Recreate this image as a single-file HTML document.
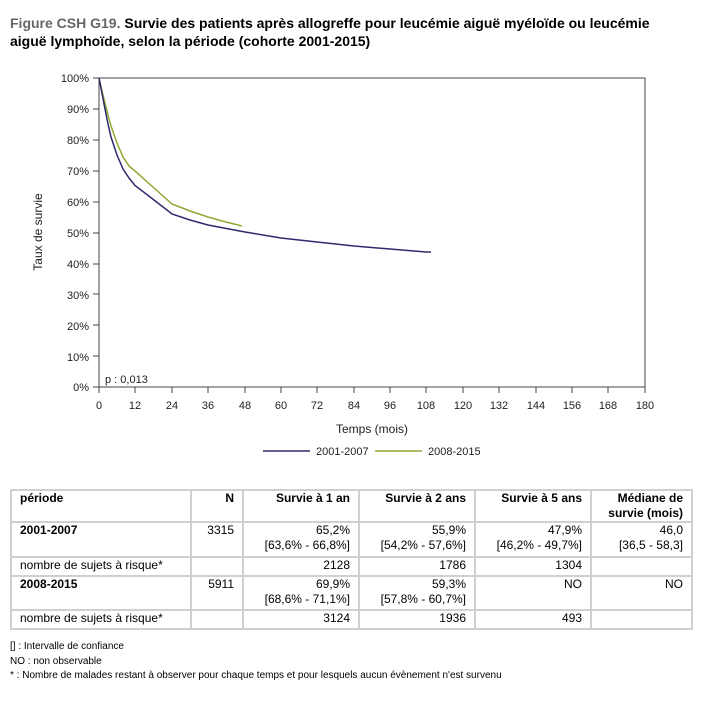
<!DOCTYPE html>
<html><head><meta charset="utf-8"><style>
body{margin:0;background:#fff;font-family:"Liberation Sans",sans-serif;width:709px;height:702px;position:relative;overflow:hidden}
.t{position:absolute;left:10px;top:14px;font-size:14px;font-weight:bold;line-height:18px;color:#000;width:676px}
.t span{color:#666}
table{position:absolute;left:10px;top:489px;border-collapse:collapse;font-size:12px;width:681px;table-layout:fixed}
td{border:2px solid #d0d0d0;padding:0 8px;vertical-align:top;text-align:right;line-height:15px;overflow:hidden;white-space:nowrap}
td:first-child{text-align:left}
.b{font-weight:bold}
.n{position:absolute;left:10px;font-size:10px;color:#000}
</style></head><body>
<div class="t"><span>Figure CSH G19.</span> Survie des patients après allogreffe pour leucémie aiguë myéloïde ou leucémie aiguë lymphoïde, selon la période (cohorte 2001-2015)</div>
<svg width="709" height="470" style="position:absolute;left:0;top:0" font-family="Liberation Sans, sans-serif" font-size="11">
<rect x="99" y="78" width="546" height="309" fill="none" stroke="#444" stroke-width="1"/>
<g text-anchor="end" fill="#222">
<text x="89" y="82">100%</text><text x="89" y="113">90%</text><text x="89" y="144">80%</text><text x="89" y="175">70%</text><text x="89" y="206">60%</text><text x="89" y="237">50%</text><text x="89" y="268">40%</text><text x="89" y="299">30%</text><text x="89" y="330">20%</text><text x="89" y="361">10%</text><text x="89" y="391">0%</text>
</g>
<g stroke="#444"><path d="M93 78h6M93 109h6M93 140h6M93 171h6M93 202h6M93 233h6M93 264h6M93 294h6M93 325h6M93 356h6M93 387h6"/>
<path d="M99 387v6M135 387v6M172 387v6M208 387v6M245 387v6M281 387v6M317 387v6M354 387v6M390 387v6M426 387v6M463 387v6M499 387v6M536 387v6M572 387v6M608 387v6M645 387v6"/></g>
<g text-anchor="middle" fill="#222">
<text x="99" y="409">0</text><text x="135" y="409">12</text><text x="172" y="409">24</text><text x="208" y="409">36</text><text x="245" y="409">48</text><text x="281" y="409">60</text><text x="317" y="409">72</text><text x="354" y="409">84</text><text x="390" y="409">96</text><text x="426" y="409">108</text><text x="463" y="409">120</text><text x="499" y="409">132</text><text x="536" y="409">144</text><text x="572" y="409">156</text><text x="608" y="409">168</text><text x="645" y="409">180</text>
<text x="372" y="433" font-size="12">Temps (mois)</text>
</g>
<text transform="translate(42,232) rotate(-90)" text-anchor="middle" font-size="12" fill="#222">Taux de survie</text>
<text x="105" y="383" fill="#222">p : 0,013</text>
<polyline fill="none" stroke="#8fa832" stroke-width="1.5" points="99,78 102,91 105,103 108,115 111,126 117,143 123,157 129,166 135,171 154,188 172,204 190,211 208,217 226,222 242,226"/>
<polyline fill="none" stroke="#2e2a6e" stroke-width="1.5" points="99,78 102,93.5 105,109 108,124 111,137 117,155 123,169 129,178 135,185.5 154,200 172,214 190,220 208,225 245,232 281,238 317,242 354,246 390,249 426,252 431,252"/>
<path d="M263 451h47" stroke="#2e2a6e" stroke-width="1.5"/><text x="316" y="455" fill="#222">2001-2007</text>
<path d="M375 451h47" stroke="#8fa832" stroke-width="1.5"/><text x="428" y="455" fill="#222">2008-2015</text>
</svg>
<table>
<col style="width:180px"><col style="width:52px"><col style="width:116px"><col style="width:116px"><col style="width:116px"><col style="width:101px">
<tr style="height:32px"><td class="b">période</td><td class="b">N</td><td class="b">Survie à 1 an</td><td class="b">Survie à 2 ans</td><td class="b">Survie à 5 ans</td><td class="b">Médiane de<br>survie (mois)</td></tr>
<tr style="height:35px"><td class="b">2001-2007</td><td>3315</td><td>65,2%<br>[63,6% - 66,8%]</td><td>55,9%<br>[54,2% - 57,6%]</td><td>47,9%<br>[46,2% - 49,7%]</td><td>46,0<br>[36,5 - 58,3]</td></tr>
<tr style="height:19px"><td>nombre de sujets à risque*</td><td></td><td>2128</td><td>1786</td><td>1304</td><td></td></tr>
<tr style="height:34px"><td class="b">2008-2015</td><td>5911</td><td>69,9%<br>[68,6% - 71,1%]</td><td>59,3%<br>[57,8% - 60,7%]</td><td>NO</td><td>NO</td></tr>
<tr style="height:19px"><td>nombre de sujets à risque*</td><td></td><td>3124</td><td>1936</td><td>493</td><td></td></tr>
</table>
<div class="n" style="top:641px">[] : Intervalle de confiance</div>
<div class="n" style="top:656px">NO : non observable</div>
<div class="n" style="top:670px">* : Nombre de malades restant à observer pour chaque temps et pour lesquels aucun évènement n'est survenu</div>
</body></html>
